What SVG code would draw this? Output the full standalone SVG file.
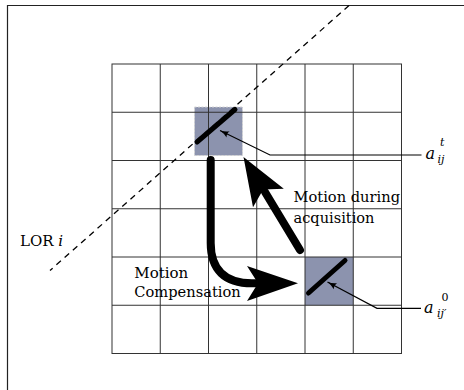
<svg xmlns="http://www.w3.org/2000/svg" width="464" height="390" viewBox="0 0 464 390">
  <defs>
    <marker id="thin" markerWidth="10" markerHeight="8" refX="9" refY="4" orient="auto" markerUnits="userSpaceOnUse">
      <path d="M0,0.5 Q4,3.2 9,4 Q4,4.8 0,7.5 Q2,4 0,0.5 Z" fill="#000"/>
    </marker>
  </defs>
  <style>
    .grid { stroke: #333; stroke-width: 1; fill: none; }
    .cell { fill: #8c93ae; }
    .det { stroke: #000; stroke-width: 5; stroke-linecap: round; }
    .lead { stroke: #000; stroke-width: 1.2; fill: none; }
    .big { stroke: #000; stroke-width: 8; fill: none; stroke-linecap: round; }
  </style>
  <rect width="464" height="390" fill="#fff"/>
  <g id="frame">
    <path d="M7.5,390 V5.5 H464" stroke="#222" stroke-width="1.2" fill="none"/>
  </g>
  <g id="cell-t">
    <rect class="cell" x="194.5" y="107" width="48" height="48.5" stroke="#d4d4d4" stroke-width="1" stroke-dasharray="2,1.5"/>
  </g>
  <g id="cell-0">
    <rect class="cell" x="305" y="257" width="48.25" height="48.25"/>
  </g>
  <g id="grid">
    <rect class="grid" x="112" y="64" width="289.5" height="289.5"/>
    <path class="grid" d="M160.25,64V353.5M208.5,64V353.5M256.75,64V353.5M305,64V353.5M353.25,64V353.5M112,112.25H401.5M112,160.5H401.5M112,208.75H401.5M112,257H401.5M112,305.25H401.5"/>
  </g>
  <g id="lor">
    <line x1="349" y1="5.5" x2="50" y2="270.5" stroke="#000" stroke-width="1.3" stroke-dasharray="6,5"/>
    <text font-family="DejaVu Serif, serif" font-size="15" x="20" y="246">LOR <tspan font-style="italic">i</tspan></text>
  </g>
  <g id="detector-t">
    <line class="det" x1="197" y1="142" x2="235" y2="109.5"/>
  </g>
  <g id="detector-0">
    <line class="det" x1="308.5" y1="293" x2="345" y2="260.5"/>
  </g>
  <g id="connectors">
    <polyline class="lead" points="421.5,155 270,155 220,130.5" marker-end="url(#thin)"/>
    <polyline class="lead" points="421,308.3 377,308.3 327.5,282" marker-end="url(#thin)"/>
    <line class="big" x1="300" y1="250" x2="265" y2="192"/>
    <polygon points="243.5,157 283.8,188.7 263.2,189.5 253,207.3" fill="#000"/>
    <path class="big" d="M210.7,160 L210.7,243 C210.7,270 225,283.3 252,283.3 L259,283.3"/>
    <polygon points="298,283.3 247,266 258,283.3 247,301" fill="#000"/>
  </g>
  <g id="labels" font-family="DejaVu Serif, serif" fill="#000">
    <text font-size="15.5" x="293.5" y="201.5" textLength="106.5" lengthAdjust="spacingAndGlyphs">Motion during</text>
    <text font-size="15.5" x="293.5" y="223" textLength="81" lengthAdjust="spacingAndGlyphs">acquisition</text>
    <text font-size="15.5" x="134.3" y="277.5" textLength="54" lengthAdjust="spacingAndGlyphs">Motion</text>
    <text font-size="15.5" x="134.3" y="297" textLength="106.4" lengthAdjust="spacingAndGlyphs">Compensation</text>
    <text font-style="italic" font-size="16" x="425.5" y="158.5">a</text>
    <text font-style="italic" font-size="11" x="440" y="146">t</text>
    <text font-style="italic" font-size="11" x="437.5" y="163">ij</text>
    <text font-style="italic" font-size="16" x="424" y="312.5">a</text>
    <text font-size="11" x="441.5" y="301">0</text>
    <text font-style="italic" font-size="11" x="437" y="317">ij′</text>
  </g>
</svg>
